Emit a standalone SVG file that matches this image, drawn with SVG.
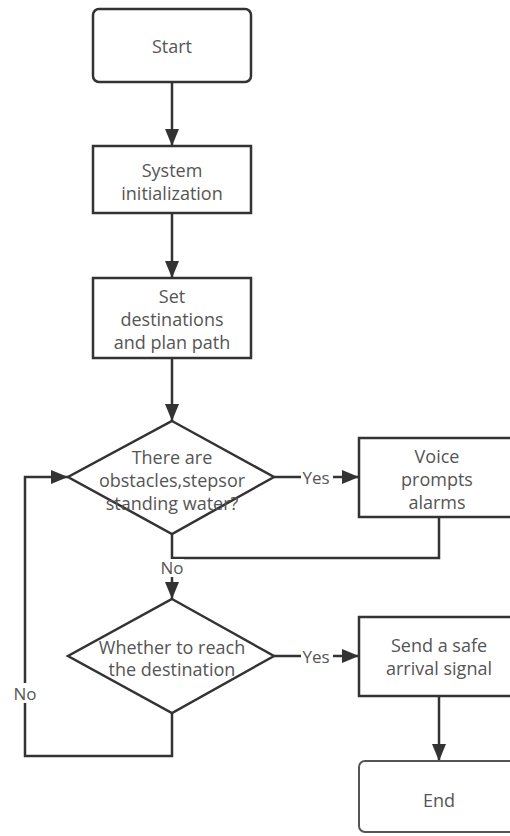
<svg xmlns="http://www.w3.org/2000/svg" width="510" height="836" viewBox="0 0 510 836">
<defs>
<marker id="arr" markerUnits="userSpaceOnUse" markerWidth="18" markerHeight="16" refX="17" refY="8" orient="auto">
<path d="M0,1 L17,8 L0,15 Z" fill="#333"/>
</marker>
<style>
.box{fill:#fff;stroke:#333;stroke-width:2.5}
.end{fill:#fff;stroke:#555;stroke-width:2}
.t{font-family:"Open Sans","Noto Sans",sans-serif;font-size:18px;fill:#555;text-anchor:middle;dominant-baseline:central}
.c{fill:none;stroke:#333;stroke-width:2.5}
.lbl{font-family:"Open Sans","Noto Sans",sans-serif;font-size:17px;fill:#555;text-anchor:middle;dominant-baseline:central}
</style>
</defs>
<rect width="510" height="836" fill="#fff"/>
<g id="connectors">
<line class="c" x1="172" y1="82" x2="172" y2="146" marker-end="url(#arr)"/>
<line class="c" x1="172" y1="213" x2="172" y2="278" marker-end="url(#arr)"/>
<line class="c" x1="172" y1="358" x2="172" y2="421" marker-end="url(#arr)"/>
<line class="c" x1="274" y1="477" x2="359" y2="477" marker-end="url(#arr)"/>
<polyline class="c" points="439,517 439,558 172,558"/>
<line class="c" x1="172" y1="534" x2="172" y2="599" marker-end="url(#arr)"/>
<line class="c" x1="274" y1="656" x2="359" y2="656" marker-end="url(#arr)"/>
<line class="c" x1="439" y1="696" x2="439" y2="761" marker-end="url(#arr)"/>
<polyline class="c" points="172,713 172,756 25,756 25,477 68,477" marker-end="url(#arr)"/>
<rect x="301" y="467" width="32" height="20" fill="#fff"/>
<text class="lbl" x="316" y="477">Yes</text>
<rect x="301" y="646" width="32" height="20" fill="#fff"/>
<text class="lbl" x="316" y="656">Yes</text>
<rect x="160" y="559" width="24" height="18" fill="#fff"/>
<text class="lbl" x="172" y="567">No</text>
<rect x="12" y="683" width="26" height="20" fill="#fff"/>
<text class="lbl" x="25" y="693">No</text>
</g>
<g id="start">
<rect class="box" x="93" y="9" width="158" height="73" rx="6"/>
<text class="t" x="172" y="46">Start</text>
</g>
<g id="init">
<rect class="box" x="93" y="146" width="158" height="67"/>
<text class="t" x="172" y="170">System</text>
<text class="t" x="172" y="193">initialization</text>
</g>
<g id="setdest">
<rect class="box" x="93" y="278" width="158" height="80"/>
<text class="t" x="172" y="296">Set</text>
<text class="t" x="172" y="319">destinations</text>
<text class="t" x="172" y="342">and plan path</text>
</g>
<g id="obstacle">
<polygon class="box" points="172,421 274,477 172,534 68,477"/>
<text class="t" x="172" y="457">There are</text>
<text class="t" x="172" y="480">obstacles,stepsor</text>
<text class="t" x="172" y="503">standing water?</text>
</g>
<g id="voice">
<rect class="box" x="359" y="438" width="170" height="79"/>
<text class="t" x="437" y="456">Voice</text>
<text class="t" x="437" y="479">prompts</text>
<text class="t" x="437" y="502">alarms</text>
</g>
<g id="reach">
<polygon class="box" points="172,599 274,656 172,713 68,656"/>
<text class="t" x="172" y="647">Whether to reach</text>
<text class="t" x="172" y="669">the destination</text>
</g>
<g id="send">
<rect class="box" x="359" y="617" width="170" height="79"/>
<text class="t" x="439" y="645">Send a safe</text>
<text class="t" x="439" y="668">arrival signal</text>
</g>
<g id="end">
<rect class="end" x="359" y="761" width="170" height="71" rx="6"/>
<text class="t" x="439" y="800">End</text>
</g>
</svg>
